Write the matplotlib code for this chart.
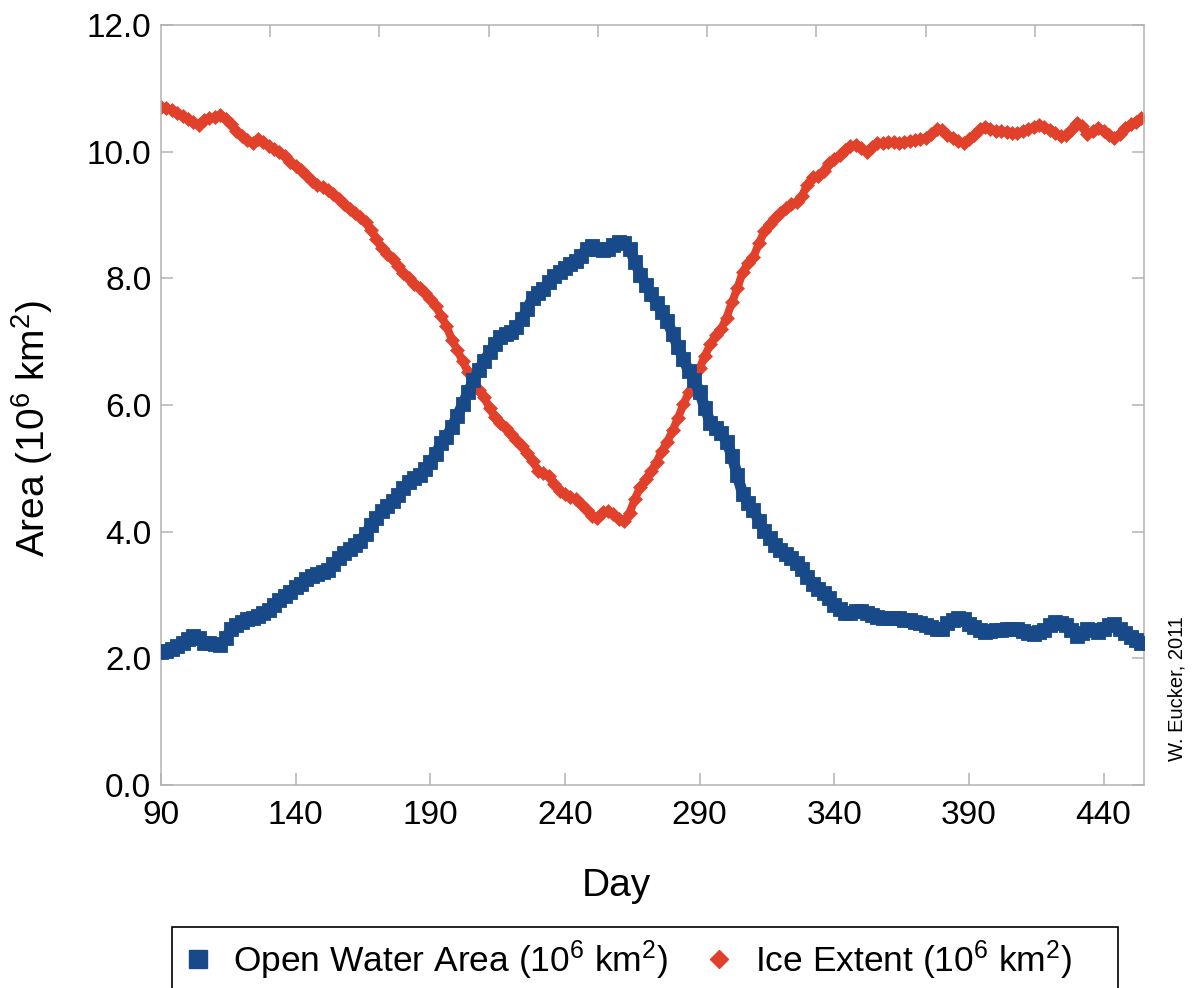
import matplotlib
matplotlib.use("Agg")
import matplotlib.pyplot as plt
from matplotlib.lines import Line2D
from matplotlib.patches import Rectangle

plt.rcParams["font.family"] = ["Liberation Sans", "DejaVu Sans"]
plt.rcParams["mathtext.default"] = "regular"

# one sample every second day
days = list(range(90, 455, 2))

ice_extent = [
    10.70, 10.69, 10.66, 10.61, 10.56, 10.52, 10.47, 10.42, 10.50, 10.53,
    10.54, 10.58, 10.52, 10.43, 10.33, 10.24, 10.18, 10.13, 10.20, 10.15,
    10.09, 10.04, 9.99, 9.93, 9.84, 9.78, 9.71, 9.63, 9.54, 9.47,
    9.44, 9.40, 9.33, 9.26, 9.17, 9.09, 9.03, 8.97, 8.89, 8.77,
    8.62, 8.48, 8.39, 8.30, 8.20, 8.09, 8.00, 7.91, 7.85, 7.77,
    7.68, 7.56, 7.41, 7.25, 7.03, 6.87, 6.69, 6.52, 6.36, 6.23,
    6.12, 5.95, 5.81, 5.71, 5.63, 5.54, 5.45, 5.35, 5.24, 5.12,
    4.96, 4.92, 4.88, 4.76, 4.64, 4.60, 4.55, 4.51, 4.43, 4.34,
    4.25, 4.22, 4.31, 4.33, 4.28, 4.20, 4.17, 4.30, 4.52, 4.71,
    4.83, 4.95, 5.10, 5.27, 5.42, 5.60, 5.80, 6.01, 6.20, 6.37,
    6.58, 6.78, 6.96, 7.11, 7.20, 7.38, 7.62, 7.84, 8.10, 8.24,
    8.34, 8.55, 8.74, 8.86, 8.95, 9.03, 9.11, 9.17, 9.21, 9.30,
    9.48, 9.60, 9.62, 9.70, 9.82, 9.88, 9.94, 10.02, 10.09, 10.11,
    10.05, 10.00, 10.08, 10.13, 10.14, 10.16, 10.15, 10.13, 10.15, 10.17,
    10.18, 10.20, 10.22, 10.28, 10.35, 10.34, 10.26, 10.21, 10.17, 10.13,
    10.20, 10.27, 10.35, 10.39, 10.36, 10.33, 10.32, 10.31, 10.29, 10.29,
    10.33, 10.36, 10.39, 10.42, 10.39, 10.34, 10.29, 10.24, 10.27, 10.34,
    10.45, 10.40, 10.28, 10.32, 10.38, 10.33, 10.27, 10.22, 10.28, 10.37,
    10.43, 10.47, 10.53,
]

open_water = [
    2.10, 2.11, 2.15, 2.19, 2.25, 2.31, 2.36, 2.32, 2.25, 2.24,
    2.23, 2.21, 2.32, 2.46, 2.52, 2.58, 2.62, 2.64, 2.67, 2.71,
    2.77, 2.84, 2.92, 2.99, 3.05, 3.12, 3.18, 3.25, 3.30, 3.33,
    3.36, 3.40, 3.49, 3.59, 3.66, 3.72, 3.79, 3.86, 3.97, 4.10,
    4.22, 4.32, 4.40, 4.49, 4.58, 4.69, 4.78, 4.84, 4.90, 4.99,
    5.10, 5.22, 5.40, 5.50, 5.65, 5.83, 6.01, 6.20, 6.39, 6.55,
    6.70, 6.83, 6.96, 7.08, 7.12, 7.16, 7.23, 7.35, 7.52, 7.69,
    7.77, 7.83, 7.94, 8.04, 8.10, 8.16, 8.22, 8.28, 8.36, 8.46,
    8.51, 8.46, 8.45, 8.47, 8.52, 8.57, 8.56, 8.47, 8.26, 8.06,
    7.90, 7.75, 7.61, 7.47, 7.32, 7.12, 6.92, 6.72, 6.53, 6.40,
    6.20, 5.95, 5.72, 5.63, 5.56, 5.42, 5.20, 4.89, 4.59, 4.45,
    4.34, 4.17, 4.01, 3.90, 3.79, 3.71, 3.65, 3.59, 3.50, 3.41,
    3.29, 3.17, 3.10, 3.03, 2.95, 2.85, 2.78, 2.72, 2.72, 2.74,
    2.74, 2.72, 2.69, 2.66, 2.63, 2.63, 2.63, 2.63, 2.61, 2.60,
    2.58, 2.56, 2.53, 2.50, 2.47, 2.47, 2.56, 2.61, 2.63, 2.62,
    2.55, 2.49, 2.44, 2.42, 2.43, 2.44, 2.45, 2.46, 2.47, 2.46,
    2.43, 2.40, 2.39, 2.42, 2.45, 2.52, 2.57, 2.56, 2.52, 2.44,
    2.35, 2.40, 2.47, 2.45, 2.42, 2.47, 2.53, 2.54, 2.47, 2.40,
    2.34, 2.29, 2.24,
]

x_ticks = [90, 140, 190, 240, 290, 340, 390, 440]
y_ticks = [0, 2, 4, 6, 8, 10, 12]

blue = "#184a8a"
red = "#e1402a"
grey = "#b3b3b3"

W, H = 1197, 988
fig = plt.figure(figsize=(W / 100, H / 100), dpi=100)
ax = fig.add_axes([161 / W, 1 - 785 / H, (1144 - 161) / W, (785 - 25) / H])

# dense markers; a thick trace underneath keeps the band unbroken on steep runs
ax.plot(days, ice_extent, linestyle="-", linewidth=5.8, marker="D",
        markersize=7.4, color=red, markeredgecolor=red, markeredgewidth=0.5,
        solid_joinstyle="round", zorder=2)
ax.plot(days, open_water, linestyle="-", linewidth=8.0, marker="s",
        markersize=10.2, color=blue, markeredgecolor=blue, markeredgewidth=0.6,
        solid_joinstyle="miter", zorder=3)

ax.set_xlim(90, 455)
ax.set_ylim(0, 12)
ax.set_xticks(x_ticks)
ax.set_yticks(y_ticks)
ax.set_yticklabels([f"{v:.1f}" for v in y_ticks])

for side in ax.spines.values():
    side.set_color(grey)
    side.set_linewidth(1.1)

ax.tick_params(axis="both", direction="in", length=8.6, width=1.1,
               color=grey, labelsize=24, right=True)
ax.tick_params(axis="x", pad=11)
ax.tick_params(axis="y", pad=7)

# secondary top axis only carries its own evenly spaced ticks
top = ax.twiny()
top.set_xlim(0, 9)
top.set_xticks(range(1, 9))
top.tick_params(axis="x", direction="in", length=8.6, width=1.1,
                color=grey, labeltop=False)
for side in top.spines.values():
    side.set_visible(False)

fig.text(32 / W, 1 - 428 / H, "Area (10$^{6}$ km$^{2}$)", rotation=90,
         ha="center", va="center", fontsize=28)
fig.text(616 / W, 1 - 896 / H, "Day", ha="center", va="baseline",
         fontsize=28)
fig.text(1177 / W, 1 - 689 / H, "W. Eucker, 2011", rotation=90,
         ha="center", va="center", fontsize=14.5)

# legend box runs off the bottom edge of the figure
fig.patches.append(Rectangle((172 / W, 1 - 995 / H), (1118 - 172) / W,
                             (995 - 927) / H, transform=fig.transFigure,
                             fill=False, edgecolor="black", linewidth=1.2))

handles = [
    Line2D([], [], linestyle="none", marker="s", markersize=13.5, color=blue),
    Line2D([], [], linestyle="none", marker="D", markersize=9.5, color=red),
]
labels = ["Open Water Area (10$^{6}$ km$^{2}$)", "Ice Extent (10$^{6}$ km$^{2}$)"]
fig.legend(handles, labels, loc="center left",
           bbox_to_anchor=(180 / W, 1 - 960 / H), ncol=2,
           fontsize=25.5, frameon=False, borderpad=0, borderaxespad=0,
           handlelength=1.0, handletextpad=0.5, columnspacing=0.95)

fig.savefig("out.png", dpi=100)
